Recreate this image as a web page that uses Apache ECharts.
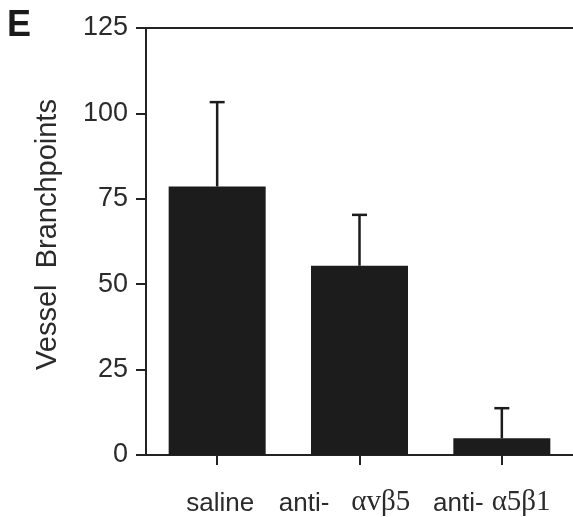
<!DOCTYPE html>
<html>
<head>
<meta charset="utf-8">
<script src="https://cdn.jsdelivr.net/npm/echarts@6/dist/echarts.min.js"></script>
<style>
html,body{margin:0;padding:0;background:#fff;}
#chart{width:573px;height:517px;}
</style>
</head>
<body>
<div id="chart"></div>
<script>
var categories = ['saline', 'anti-\u03b1v\u03b25', 'anti-\u03b15\u03b21'];
var means = [78.6, 55.4, 4.9];
var errUpper = [103.3, 70.3, 13.7];
var yMin = 0, yMax = 125, yInterval = 25;
var panelLabel = 'E';
var yName = 'Vessel  Branchpoints';

var errData = categories.map(function (c, i) { return [i, errUpper[i], means[i]]; });
var labelShift = [-6, 30, 20];
var labelGap = [0, 22, 8];

var chart = echarts.init(document.getElementById('chart'), null, {renderer: 'canvas'});
var lineColor = '#222';
var textColor = '#2b2b2b';
chart.setOption({
  animation: false,
  backgroundColor: '#fff',
  title: {
    text: panelLabel, left: 2, top: 3,
    textStyle: {fontFamily: 'Liberation Sans', fontWeight: 'bold', fontSize: 36, color: '#1a1a1a'}
  },
  grid: {left: 146, top: 28, width: 431, bottom: 58, containLabel: false},
  xAxis: [{
    type: 'category', data: categories, position: 'bottom',
    axisLine: {show: true, lineStyle: {color: lineColor, width: 2}},
    axisTick: {show: true, alignWithLabel: true, length: 10, lineStyle: {color: lineColor, width: 2}},
    axisLabel: {
      margin: 28, color: textColor, interval: 0,
      formatter: function (v, i) {
        if (v.indexOf('anti-') === 0) {
          return '{a|anti-}{s' + i + '| }{g|' + v.slice(5) + '}{p' + i + '| }';
        }
        return '{q0| }{a|' + v + '}';
      },
      rich: {
        a: {fontFamily: 'Liberation Sans', fontSize: 26, color: textColor, lineHeight: 34, verticalAlign: 'bottom'},
        g: {fontFamily: 'Liberation Serif', fontSize: 29, color: textColor, lineHeight: 34, verticalAlign: 'bottom'},
        q0: {width: -labelShift[0], lineHeight: 34},
        s1: {width: labelGap[1], lineHeight: 34}, s2: {width: labelGap[2], lineHeight: 34},
        p1: {width: labelShift[1], lineHeight: 34}, p2: {width: labelShift[2], lineHeight: 34}
      }
    },
    splitLine: {show: false}
  }, {
    type: 'category', data: categories, position: 'top',
    axisLine: {show: true, lineStyle: {color: lineColor, width: 2}},
    axisTick: {show: false}, axisLabel: {show: false}
  }],
  yAxis: {
    type: 'value', min: yMin, max: yMax, interval: yInterval,
    name: yName, nameLocation: 'middle', nameGap: 84, nameRotate: 90,
    nameTextStyle: {fontFamily: 'Liberation Sans', fontSize: 29, color: textColor, padding: [0, 0, 0, 14]},
    axisLine: {show: true, lineStyle: {color: lineColor, width: 2}},
    axisTick: {show: true, length: 10, lineStyle: {color: lineColor, width: 2}},
    axisLabel: {margin: 18, fontFamily: 'Liberation Sans', fontSize: 27, color: textColor},
    splitLine: {show: false}
  },
  series: [{
    type: 'bar', data: means, barWidth: 97,
    itemStyle: {color: '#1c1c1c'}
  }, {
    type: 'custom', data: errData, z: 3,
    renderItem: function (params, api) {
      var x = api.value(0);
      var top = api.coord([x, api.value(1)]);
      var base = api.coord([x, api.value(2)]);
      var hw = 7.5;
      var st = {stroke: '#1c1c1c', lineWidth: 2.5};
      return {
        type: 'group',
        children: [
          {type: 'line', shape: {x1: top[0], y1: top[1], x2: base[0], y2: base[1]}, style: st},
          {type: 'line', shape: {x1: top[0] - hw, y1: top[1], x2: top[0] + hw, y2: top[1]}, style: st}
        ]
      };
    }
  }]
});
</script>
</body>
</html>
